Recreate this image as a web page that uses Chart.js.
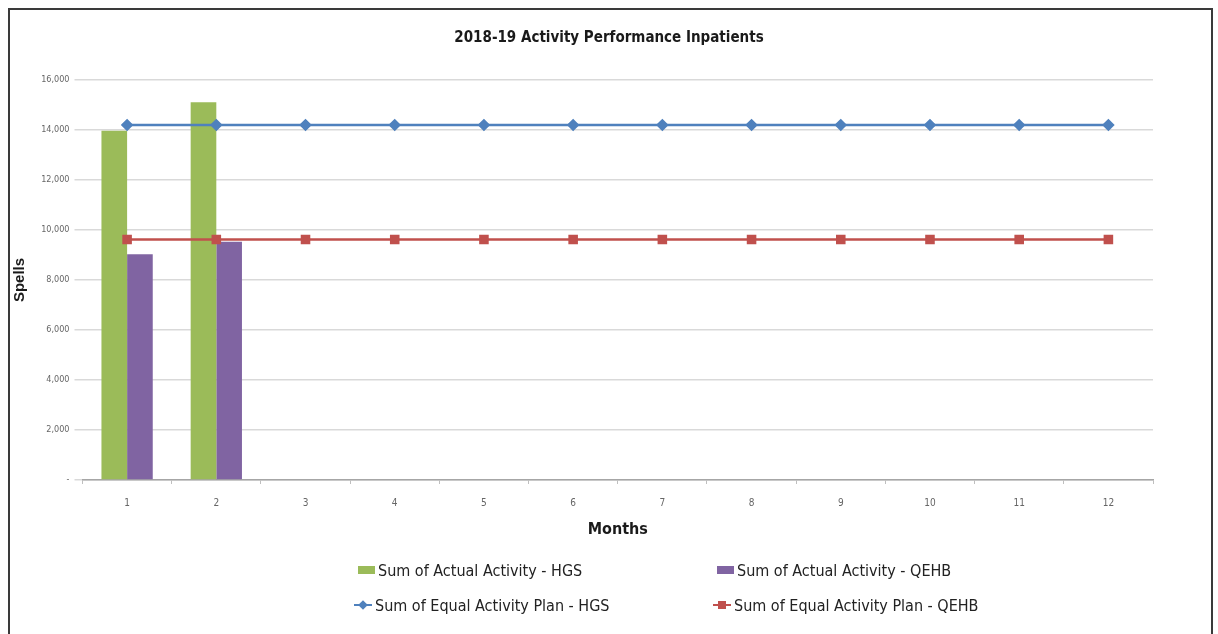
<!DOCTYPE html>
<html>
<head>
<meta charset="utf-8">
<title>2018-19 Activity Performance Inpatients</title>
<script src="https://cdn.jsdelivr.net/npm/chart.js@4/dist/chart.umd.min.js"></script>
<style>
  html, body { margin: 0; padding: 0; background: #fff; }
  #wrap { position: relative; width: 1218px; height: 634px; overflow: hidden; }
  #frame { position: absolute; left: 8px; top: 8px; width: 1201px; height: 700px;
           border: 2px solid #3a3a3a; border-bottom: none; pointer-events: none; }
  #chartBox { position: absolute; left: 0; top: 0; width: 1218px; height: 634px; }
  #legend { position: absolute; left: 0; top: 556px; width: 1218px;
            font-family: "Liberation Sans Narrow", "DejaVu Sans Condensed", sans-serif;
            font-size: 16px; color: #222; }
  .lg-item { position: absolute; display: flex; align-items: center; height: 28px; white-space: nowrap; }
  .lg-box { display: inline-block; width: 17px; height: 8px; margin-right: 3px; }
  .lg-line { position: relative; display: inline-block; width: 18px; height: 2px; margin-right: 3px; }
  .lg-mark { position: absolute; left: 5px; top: -3px; width: 8px; height: 8px; }
</style>
</head>
<body>
<div id="wrap">
  <div id="chartBox"><canvas id="activityChart"></canvas></div>
  <div id="frame"></div>
  <div id="legend"></div>
</div>
<script>
// ---- 数据 ----
const months = ['1', '2', '3', '4', '5', '6', '7', '8', '9', '10', '11', '12'];
const actualHGS = [13970, 15110, null, null, null, null, null, null, null, null, null, null];
const actualQEHB = [9030, 9530, null, null, null, null, null, null, null, null, null, null];
const planHGS = [14200, 14200, 14200, 14200, 14200, 14200, 14200, 14200, 14200, 14200, 14200, 14200];
const planQEHB = [9620, 9620, 9620, 9620, 9620, 9620, 9620, 9620, 9620, 9620, 9620, 9620];
const yMin = 0;
const yMax = 16000;
const yStep = 2000;

const NARROW = '"Liberation Sans Narrow", "DejaVu Sans Condensed", sans-serif';

const chart = new Chart(document.getElementById('activityChart'), {
  type: 'bar',
  data: {
    labels: months,
    datasets: [
      {
        type: 'line',
        label: 'Sum of Equal Activity Plan - HGS',
        data: planHGS,
        borderColor: '#4F81BD',
        backgroundColor: '#4F81BD',
        borderWidth: 2.5,
        pointStyle: 'rectRot',
        pointRadius: 4.5,
        pointBackgroundColor: '#4F81BD',
        pointBorderColor: '#4F81BD',
        order: 1,
      },
      {
        type: 'line',
        label: 'Sum of Equal Activity Plan - QEHB',
        data: planQEHB,
        borderColor: '#C0504D',
        backgroundColor: '#C0504D',
        borderWidth: 2.5,
        pointStyle: 'rect',
        pointRadius: 5,
        pointBackgroundColor: '#C0504D',
        pointBorderColor: '#C0504D',
        order: 1,
      },
      {
        label: 'Sum of Actual Activity - HGS',
        data: actualHGS,
        backgroundColor: '#9BBB59',
        categoryPercentage: 0.575,
        barPercentage: 1.0,
        order: 2,
      },
      {
        label: 'Sum of Actual Activity - QEHB',
        data: actualQEHB,
        backgroundColor: '#8064A2',
        categoryPercentage: 0.575,
        barPercentage: 1.0,
        order: 2,
      },
    ],
  },
  options: {
    responsive: true,
    maintainAspectRatio: false,
    animation: false,
    layout: { padding: { left: 10, right: 10, top: 10, bottom: 89 } },
    plugins: {
      legend: { display: false },
      tooltip: { enabled: false },
      title: {
        display: true,
        text: '2018-19 Activity Performance Inpatients',
        color: '#1a1a1a',
        font: { family: NARROW, size: 15, weight: 'bold' },
        padding: { top: 19, bottom: 33 },
      },
    },
    scales: {
      x: {
        afterFit: s => { s.height = 65; },
        grid: { display: true, drawOnChartArea: false, drawTicks: true, tickLength: 4, color: '#bfbfbf' },
        border: { color: '#a6a6a6', width: 1.5 },
        ticks: { color: '#666', padding: 13, font: { family: NARROW, size: 10 } },
        title: {
          display: true,
          text: 'Months',
          color: '#1a1a1a',
          font: { family: NARROW, size: 16, weight: 'bold' },
          padding: { bottom: 6 },
        },
      },
      y: {
        min: yMin,
        max: yMax,
        afterFit: s => { s.width = 72.5; },
        grid: { color: '#d9d9d9', lineWidth: 1.5, tickLength: 8 },
        border: { display: false },
        ticks: {
          stepSize: yStep,
          color: '#666',
          padding: 5,
          font: { family: NARROW, size: 9 },
          callback: v => v === 0 ? '-' : v.toLocaleString('en-US'),
        },
        title: {
          display: true,
          text: 'Spells',
          color: '#1a1a1a',
          font: { family: '"Liberation Sans", Arial, sans-serif', size: 15, weight: 'bold' },
          padding: { top: 1 },
        },
      },
      // 右侧留白, 让标题居中于整幅画面
      yRight: {
        position: 'right',
        min: yMin,
        max: yMax,
        afterFit: s => { s.width = 55; },
        grid: { display: false },
        border: { display: false },
        ticks: { display: false },
      },
    },
  },
});

// ---- 图例 (两列) ----
const legendOrder = [
  { ds: 2, left: 358, top: 0 },
  { ds: 3, left: 717, top: 0 },
  { ds: 0, left: 354, top: 35 },
  { ds: 1, left: 713, top: 35 },
];
const legendEl = document.getElementById('legend');
legendOrder.forEach(({ ds, left, top }) => {
  const d = chart.data.datasets[ds];
  const item = document.createElement('div');
  item.className = 'lg-item';
  item.style.left = left + 'px';
  item.style.top = top + 'px';
  let mark;
  if (d.type === 'line') {
    mark = document.createElement('span');
    mark.className = 'lg-line';
    mark.style.background = d.borderColor;
    const m = document.createElement('span');
    m.className = 'lg-mark';
    m.style.background = d.borderColor;
    if (d.pointStyle === 'rectRot') m.style.transform = 'rotate(45deg) scale(0.85)';
    mark.appendChild(m);
  } else {
    mark = document.createElement('span');
    mark.className = 'lg-box';
    mark.style.background = d.backgroundColor;
  }
  const txt = document.createElement('span');
  txt.textContent = d.label;
  item.appendChild(mark);
  item.appendChild(txt);
  legendEl.appendChild(item);
});
</script>
</body>
</html>
